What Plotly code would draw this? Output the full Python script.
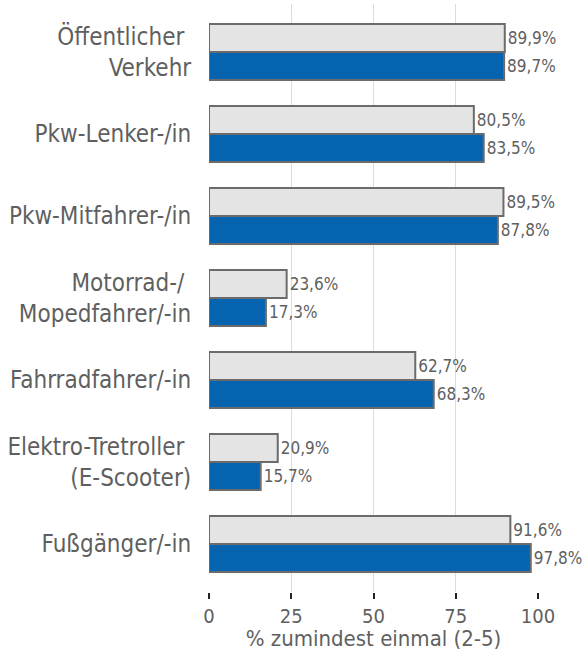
import plotly.graph_objects as go

categories = ["Öffentlicher <br>Verkehr", "Pkw-Lenker-/in", "Pkw-Mitfahrer-/in",
              "Motorrad-/ <br>Mopedfahrer/-in", "Fahrradfahrer/-in",
              "Elektro-Tretroller <br>(E-Scooter)", "Fußgänger/-in"]
series_grey = [89.9, 80.5, 89.5, 23.6, 62.7, 20.9, 91.6]
series_blue = [89.7, 83.5, 87.8, 17.3, 68.3, 15.7, 97.8]
x_ticks = [0, 25, 50, 75, 100]

def fmt(v):
    return f"{v:.1f}".replace(".", ",") + "%"

FONT = "DejaVu Sans Condensed, DejaVu Sans, sans-serif"
GREY_TXT = "#5f5f5f"

fig = go.Figure()
fig.add_trace(go.Bar(
    y=categories, x=series_grey, orientation="h",
    marker=dict(color="#e4e4e4", line=dict(color="#6b6b6b", width=2)),
    text=[fmt(v) for v in series_grey], textposition="outside",
    textfont=dict(size=17, color=GREY_TXT, family=FONT), cliponaxis=False,
))
fig.add_trace(go.Bar(
    y=categories, x=series_blue, orientation="h",
    marker=dict(color="#0563b0", line=dict(color="#6b6b6b", width=2)),
    text=[fmt(v) for v in series_blue], textposition="outside",
    textfont=dict(size=17, color=GREY_TXT, family=FONT), cliponaxis=False,
))

fig.update_layout(
    width=585, height=651,
    margin=dict(l=209, r=47, t=4, b=59),
    barmode="group", bargap=0.317, bargroupgap=0,
    showlegend=False,
    plot_bgcolor="white", paper_bgcolor="white",
    font=dict(family=FONT, color=GREY_TXT),
    xaxis=dict(
        range=[0, 100], tickvals=x_ticks, showgrid=True, gridcolor="#dcdcdc", gridwidth=1,
        zeroline=False, showline=False,
        ticks="outside", ticklen=6, tickwidth=2, tickcolor="#222222",
        tickfont=dict(size=20, color=GREY_TXT), automargin=False,
        title=dict(text="% zumindest einmal (2-5)", font=dict(size=22, color=GREY_TXT), standoff=6),
    ),
    yaxis=dict(
        autorange=False, range=[6.585, -0.585], showgrid=False, zeroline=False,
        ticks="outside", ticklen=12, tickcolor="rgba(0,0,0,0)", automargin=False,
        tickfont=dict(size=24, color=GREY_TXT), showline=False,
    ),
)

fig.write_html("out.html", config={"displayModeBar": False},
               post_script="document.body.style.margin='0';")
